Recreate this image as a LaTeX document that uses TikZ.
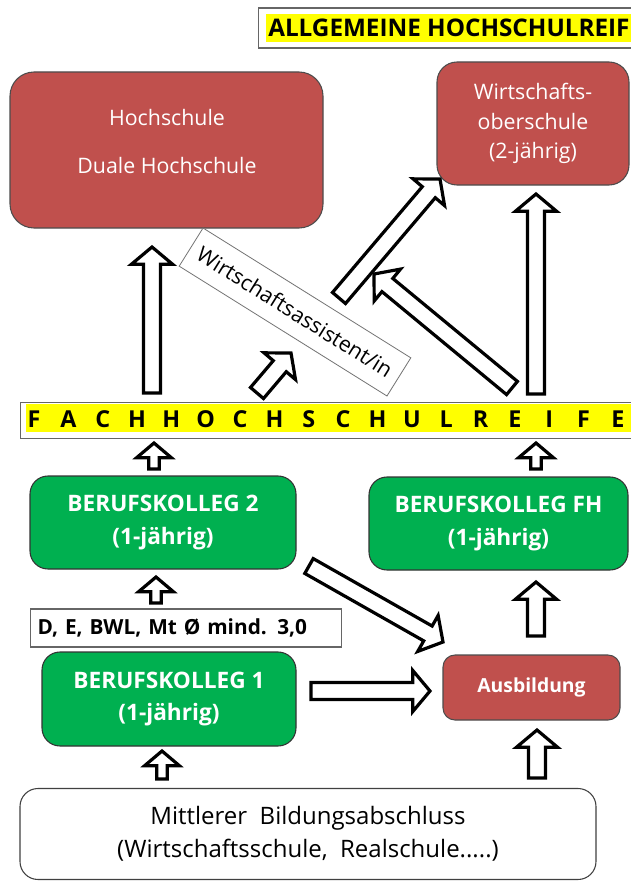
\documentclass[tikz,border=0pt]{standalone}
\usepackage{fontspec}
\setmainfont{Open Sans}
\usepackage{tikz}
\usetikzlibrary{calc}

\definecolor{boxred}{HTML}{C0504D}
\definecolor{boxgreen}{HTML}{00B050}
\definecolor{hiyellow}{HTML}{FFFF00}

% white block arrow from #1 (tail) to #2 (tip): shaft half width, head half width, head length
\newcommand{\fatarrow}[5]{%
  \coordinate (fatbase) at ($(#2)!#5!(#1)$);
  \draw[fat] ($(#1)!#3!90:(#2)$) -- ($(fatbase)!#3!90:(#2)$)
    -- ($(fatbase)!#4!90:(#2)$) -- (#2)
    -- ($(fatbase)!#4!-90:(#2)$) -- ($(fatbase)!#3!-90:(#2)$)
    -- ($(#1)!#3!-90:(#2)$) -- cycle;
}
\newcommand{\bigarrow}[2]{\fatarrow{#1}{#2}{6.4pt}{15.5pt}{13pt}}
\newcommand{\smallarrow}[2]{\fatarrow{#1}{#2}{3.9pt}{13pt}{11pt}}

\tikzset{
  dims/.style 2 args={minimum width=#1*0.75pt, minimum height=#2*0.75pt, inner sep=0pt},
  redbox/.style={draw=black!70, line width=0.8pt, fill=boxred, text=white, align=center},
  greenbox/.style={draw=black!80, line width=0.8pt, fill=boxgreen, text=white, align=center,
    rounded corners=13.5pt, font=\bfseries\fontsize{17}{25}\selectfont},
  plainbox/.style={draw=black!60, line width=0.8pt, fill=white},
  fat/.style={draw=black, fill=white, line width=2.4pt, line join=miter},
}

\begin{document}
\begin{tikzpicture}[x=0.75pt, y=-0.75pt]
    \useasboundingbox (0,0) rectangle (631,881);

    % top row
    \node[plainbox, line width=1pt, dims={400}{40}, anchor=west] (ahr) at (258,28) {};
    \node[fill=hiyellow, anchor=west, inner xsep=1.5pt, minimum height=28*0.75pt,
      font=\bfseries\fontsize{18.2}{18.2}\selectfont] (ahrtext) at (266,28) {ALLGEMEINE HOCHSCHULREIFE};

    \node[redbox, rounded corners=18pt, dims={313}{156}] (hs) at (166.5,150) {};
    \node[text=white, align=center, font=\fontsize{16}{36}\selectfont] (hstext) at (167,141)
      {Hochschule\\Duale Hochschule};

    \node[redbox, rounded corners=15pt, dims={192}{123}, font=\fontsize{16}{22}\selectfont] (wos) at (533,123.5)
      {Wirtschafts-\\oberschule\\(2-jährig)};

    \node[plainbox, draw=black!55, line width=0.6pt, dims={245}{45}, rotate=-32,
      font=\fontsize{16}{16}\selectfont] (wa) at (295,312) {Wirtschaftsassistent/in};

    % Fachhochschulreife
    \node[plainbox, dims={620}{36}, anchor=north west] (fhr) at (20,402) {};
    \fill[hiyellow] (26,404) rectangle (640,432);
    \foreach \ch [count=\i from 0] in {F,A,C,H,H,O,C,H,S,C,H,U,L,R,E,I,F,E}
      \node[font=\bfseries\fontsize{17.5}{17.5}\selectfont] (fhr\i) at (34+34.35*\i,419) {\ch};

    % Berufskolleg
    \node[greenbox, dims={266}{93}] (bk2) at (163,522.5) {BERUFSKOLLEG 2\\(1-jährig)};
    \node[greenbox, dims={259}{93}] (bkfh) at (498.5,523.5) {BERUFSKOLLEG FH\\(1-jährig)};
    \node[plainbox, anchor=west, text width=222.75pt, inner xsep=5.25pt, minimum height=38*0.75pt,
      align=left, font=\bfseries\fontsize{15.6}{15.6}\selectfont] (cond) at (30,628) {D, E, BWL, Mt Ø mind. 3,0};
    \node[greenbox, dims={254}{94}, font=\bfseries\fontsize{17}{24}\selectfont] (bk1) at (169,699) {BERUFSKOLLEG 1\\(1-jährig)};
    \node[redbox, rounded corners=9pt, dims={177}{65}, font=\bfseries\fontsize{14.5}{14.5}\selectfont] (ausb) at (531.5,687.5) {Ausbildung};

    \node[plainbox, draw=black!75, rounded corners=13.5pt, dims={576}{91}, align=center,
      font=\fontsize{18}{25}\selectfont] (mba) at (308,834)
      {Mittlerer\ \ Bildungsabschluss\\(Wirtschaftsschule,\ \ Realschule.....)};

    % arrow ends
    \coordinate (fhr-hs) at (152,393);   \coordinate (hs-in) at (152,247);
    \coordinate (fhr-wa) at (257,393);   \coordinate (wa-in) at (291,353);
    \coordinate (wa-wos) at (339,298);   \coordinate (wos-in) at (440,179);
    \coordinate (fhr-wa2) at (512,388);  \coordinate (wa2-in) at (374,274);
    \coordinate (fhr-wos) at (536,394);  \coordinate (wos-in2) at (536,194);
    \coordinate (bk2-out) at (154,469);  \coordinate (fhr-in) at (154,443);
    \coordinate (bkfh-out) at (536,469); \coordinate (fhr-in2) at (536,443);
    \coordinate (bk1-out) at (156,603);  \coordinate (bk2-in) at (156,577);
    \coordinate (bk2-aus) at (309,566);  \coordinate (aus-in) at (443,642);
    \coordinate (bk1-aus) at (311,691);  \coordinate (aus-in2) at (430,691);
    \coordinate (aus-out) at (536,636);  \coordinate (bkfh-in) at (536,582);
    \coordinate (mba-aus) at (537,778);  \coordinate (aus-in3) at (537,730);
    \coordinate (mba-bk1) at (162,779);  \coordinate (bk1-in) at (162,751);

    \bigarrow{fhr-hs}{hs-in}
    \bigarrow{fhr-wa}{wa-in}
    \bigarrow{wa-wos}{wos-in}
    \bigarrow{fhr-wa2}{wa2-in}
    \bigarrow{fhr-wos}{wos-in2}
    \smallarrow{bk2-out}{fhr-in}
    \smallarrow{bkfh-out}{fhr-in2}
    \smallarrow{bk1-out}{bk2-in}
    \bigarrow{bk2-aus}{aus-in}
    \bigarrow{bk1-aus}{aus-in2}
    \bigarrow{aus-out}{bkfh-in}
    \bigarrow{mba-aus}{aus-in3}
    \smallarrow{mba-bk1}{bk1-in}
\end{tikzpicture}
\end{document}
